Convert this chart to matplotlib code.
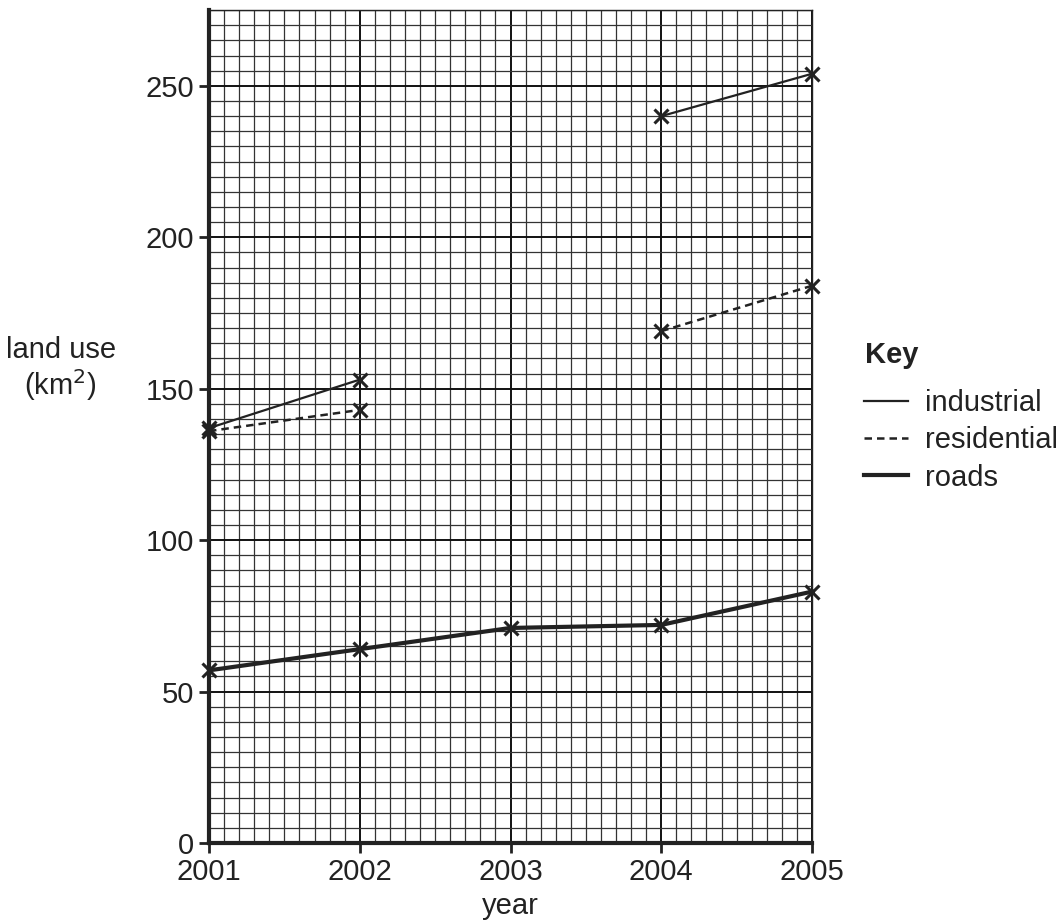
import numpy as np
import matplotlib.pyplot as plt
from matplotlib.lines import Line2D

plt.rcParams['font.family'] = ['Liberation Sans', 'DejaVu Sans']

# land use (km2)
ind_years = [2001, 2002, np.nan, 2004, 2005]
industrial = [137, 153, np.nan, 240, 254]
res_years = [2001, 2002, np.nan, 2004, 2005]
residential = [136, 143, np.nan, 169, 184]
road_years = [2001, 2002, 2003, 2004, 2005]
roads = [57, 64, 71, 72, 83]

x_ticks = [2001, 2002, 2003, 2004, 2005]
y_ticks = [0, 50, 100, 150, 200, 250]

fig = plt.figure(figsize=(10.63, 9.24), dpi=100)
ax = fig.add_axes([0.1966, 0.0877, 0.5673, 0.9013])

ax.set_xlim(2001, 2005)
ax.set_ylim(0, 275)
ax.set_xticks(x_ticks)
ax.set_yticks(y_ticks)
ax.set_xticks(np.arange(2001, 2005.01, 0.1), minor=True)
ax.set_yticks(np.arange(0, 275.1, 5), minor=True)
ax.grid(which='minor', color='#333333', lw=0.9)
ax.grid(which='major', color='#111111', lw=1.4)
ax.set_axisbelow(True)
ax.tick_params(which='minor', length=0)
ax.tick_params(which='major', length=7, width=2, labelsize=21, color='#222222', labelcolor='#222222')

for s in ['left', 'bottom']:
    ax.spines[s].set_linewidth(3)
    ax.spines[s].set_color('#222222')
for s in ['top', 'right']:
    ax.spines[s].set_linewidth(1.0)
    ax.spines[s].set_color('#222222')

mk = dict(marker='x', markersize=10, markeredgewidth=2.2, color='#222222', clip_on=False)
ax.plot(ind_years, industrial, lw=1.6, ls='-', **mk)
ax.plot(res_years, residential, lw=1.8, ls=(0, (3, 2)), **mk)
ax.plot(road_years, roads, lw=3.0, ls='-', **mk)

ax.set_xlabel('year', fontsize=21, color='#222222', labelpad=5)
fig.text(0.057, 0.6, 'land use\n(km$^2$)', fontsize=21, color='#222222', ha='center', va='center',
         linespacing=1.1)

fig.text(0.814, 0.616, 'Key', fontsize=21, weight='bold', color='#222222', ha='left', va='center')
handles = [Line2D([], [], color='#222222', lw=1.6),
           Line2D([], [], color='#222222', lw=1.8, ls=(0, (3, 2))),
           Line2D([], [], color='#222222', lw=3.0)]
leg = fig.legend(handles, ['industrial', 'residential', 'roads'], loc='upper left',
                 bbox_to_anchor=(0.8128, 0.579), frameon=False, fontsize=21,
                 borderpad=0, borderaxespad=0,
                 handlelength=1.5, handletextpad=0.6, labelspacing=0.32)
for t in leg.get_texts():
    t.set_color('#222222')

fig.savefig('out.png', dpi=100)
